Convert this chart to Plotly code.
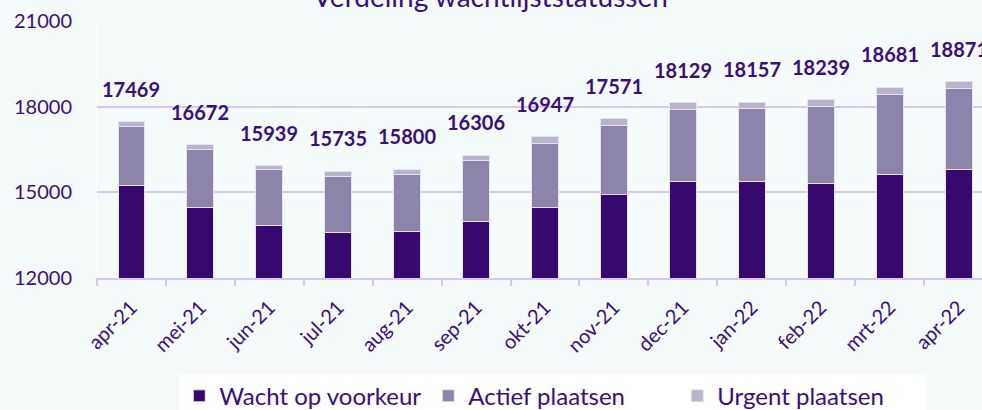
import plotly.graph_objects as go

months = ["apr-21", "mei-21", "jun-21", "jul-21", "aug-21", "sep-21", "okt-21",
          "nov-21", "dec-21", "jan-22", "feb-22", "mrt-22", "apr-22"]
totals = [17469, 16672, 15939, 15735, 15800, 16306, 16947, 17571, 18129, 18157, 18239, 18681, 18871]
wacht = [15250, 14470, 13825, 13604, 13639, 13965, 14456, 14926, 15369, 15369, 15298, 15614, 15790]
urgent = [170, 165, 155, 165, 165, 200, 220, 245, 220, 210, 235, 255, 235]
actief = [t - w - u for t, w, u in zip(totals, wacht, urgent)]
y_ticks = [12000, 15000, 18000, 21000]

names = ["Wacht op voorkeur", "Actief plaatsen", "Urgent plaatsen"]
colors = ["#36096F", "#8C84A9", "#B8B4CB"]
series = [wacht, actief, urgent]

PURPLE = "#3A0E80"
BG = "#F5FAFA"
FONT = "Lato"

fig = go.Figure()
for name, col, vals in zip(names, colors, series):
    fig.add_trace(go.Bar(
        x=months, y=vals, name=name,
        marker=dict(color=col, line=dict(color="#E6E3EE", width=1)),
    ))

for m, t in zip(months, totals):
    fig.add_annotation(x=m, y=t, text=f"<b>{t}</b>", showarrow=False,
                       yshift=33, font=dict(family=FONT, size=20, color=PURPLE))

fig.add_annotation(xref="paper", yref="paper", x=0.445, y=1, yanchor="bottom",
                   yshift=6, text="Verdeling wachtlijststatussen", showarrow=False,
                   font=dict(family=FONT, size=28, color=PURPLE))

fig.update_layout(
    width=982, height=410,
    barmode="stack", bargap=0.61,
    paper_bgcolor=BG, plot_bgcolor=BG,
    margin=dict(l=97, r=0, t=21, b=132, autoexpand=False),
    font=dict(family=FONT, color=PURPLE),
    legend=dict(orientation="h", x=0.515, xanchor="center", y=-0.46, yanchor="middle",
                bgcolor="#FFFFFF", font=dict(size=24, color=PURPLE), traceorder="normal",
                itemwidth=30, entrywidth=204),
    showlegend=True,
)
fig.update_xaxes(
    range=[-0.5, 12.34], tickangle=-45, tickfont=dict(size=20, color=PURPLE),
    showline=True, linecolor="#D9C6F5", linewidth=2,
    ticks="outside", tickson="boundaries", ticklen=6, tickcolor="#D9C6F5", tickwidth=2,
    showgrid=False, automargin=False, ticklabelstandoff=8,
)
fig.update_yaxes(
    range=[12000, 21000], tickvals=y_ticks, tickformat="d",
    tickfont=dict(size=20, color=PURPLE),
    showgrid=True, gridcolor="#D9C6F5", gridwidth=2, zeroline=False,
    ticks="outside", ticklen=20, tickcolor=BG, automargin=False,
    showline=True, linecolor="#FFFFFF", linewidth=1,
)

fig.write_html("out.html")
